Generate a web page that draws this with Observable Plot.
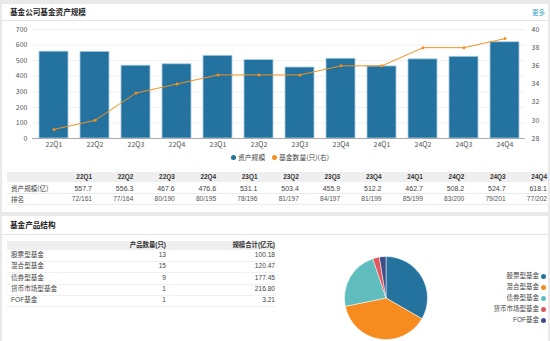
<!DOCTYPE html>
<html><head><meta charset="utf-8">
<script src="https://cdn.jsdelivr.net/npm/d3@7"></script>
<script src="https://cdn.jsdelivr.net/npm/@observablehq/plot@0.6"></script>
<style>
html,body{margin:0;padding:0;}
body{width:550px;height:341px;background:#e9e9e9;position:relative;overflow:hidden;font-family:"Noto Sans CJK SC","Noto Sans",sans-serif;color:#333;}
.panel{position:absolute;background:#fff;}
.abs{position:absolute;white-space:nowrap;line-height:1;}
.title{font-size:7.6px;font-weight:bold;color:#222;}
.sep{position:absolute;height:1px;background:#e3e3e3;}
.cell{font-size:6.6px;color:#444;font-family:"Liberation Sans","Noto Sans CJK SC",sans-serif;}
.hdr{font-size:6.4px;font-weight:bold;color:#333;font-family:"Liberation Sans","Noto Sans CJK SC",sans-serif;}
</style></head>
<body>
<div class="panel" style="left:2px;top:4px;width:546px;height:208px;"></div>
<div class="panel" style="left:2px;top:216px;width:546px;height:125px;"></div>
<div class="abs title" style="left:10px;top:8px;">基金公司基金资产规模</div>
<div class="abs" style="left:532px;top:9px;font-size:6.5px;color:#3aa4c6;">更多</div>
<div class="sep" style="left:2px;top:20px;width:546px;"></div>
<div id="chart" style="position:absolute;left:0;top:20px;"></div>
<div id="legend1"></div>
<div id="table1"></div>
<div class="abs title" style="left:10px;top:221px;">基金产品结构</div>
<div class="sep" style="left:2px;top:234px;width:546px;"></div>
<div id="table2"></div>
<div id="pie" style="position:absolute;left:340px;top:252px;"></div>
<div id="legend2"></div>
<script>
const quarters = ["22Q1","22Q2","22Q3","22Q4","23Q1","23Q2","23Q3","23Q4","24Q1","24Q2","24Q3","24Q4"];
const assets = [557.7,556.3,467.6,476.6,531.1,503.4,455.9,512.2,462.7,508.2,524.7,618.1];
const counts = [29,30,33,34,35,35,35,36,36,38,38,39];
const ranks = ["72/161","77/164","80/190","80/195","78/196","81/197","84/197","81/199","85/199","83/200","79/201","77/202"];
const leftTicks = [0,100,200,300,400,500,600,700];
const rightTicks = [28,30,32,34,36,38,40];
const seriesNames = ["资产规模","基金数量(只)(右)"];
const rowLabels = ["资产规模(亿)","排名"];

const fundTypes = ["股票型基金","混合型基金","债券型基金","货币市场型基金","FOF基金"];
const fundCounts = [13,15,9,1,1];
const fundScales = ["100.18","120.47","177.45","216.80","3.21"];
const table2Headers = ["产品数量(只)","规模合计(亿元)"];

const barColor = "#23729f", lineColor = "#f5901f";
const pieColors = ["#24739f","#f68b1f","#5fbdbd","#e0585f","#3e4e87"];

const data = quarters.map((q,i)=>({q, asset:assets[i], count:counts[i]}));
const toLeft = c => (c-28)*700/12;

const chart = Plot.plot({
  width:550, height:132, marginLeft:32, marginRight:25, marginTop:9, marginBottom:14,
  style:{fontSize:"7px", fontFamily:"'Noto Sans CJK SC','Noto Sans',sans-serif", color:"#555", background:"transparent"},
  x:{domain:quarters, paddingInner:0.3, paddingOuter:0.12, label:null},
  y:{domain:[0,700], label:null},
  marks:[
    Plot.gridY(leftTicks, {stroke:"#f0f0f0", strokeOpacity:1}),
    Plot.barY(data, {x:"q", y:"asset", fill:barColor, stroke:"#a9cde0", strokeWidth:0.8}),
    Plot.ruleY([0], {stroke:"#aaa"}),
    Plot.line(data, {x:"q", y:d=>toLeft(d.count), stroke:lineColor, strokeWidth:1}),
    Plot.dot(data, {x:"q", y:d=>toLeft(d.count), r:1.5, fill:lineColor}),
    Plot.axisY({ticks:leftTicks, anchor:"left", tickSize:0, tickPadding:5, label:null}),
    Plot.axisY({ticks:rightTicks.map(toLeft), tickFormat:v=>String(Math.round(v*12/700+28)), anchor:"right", tickSize:0, tickPadding:6, label:null}),
    Plot.axisX({tickSize:0, tickPadding:4, label:null})
  ]
});
document.getElementById("chart").appendChild(chart);

function abs(parent, html, style){ const d=document.createElement("div"); d.className="abs "+(style.cls||""); d.innerHTML=html; Object.assign(d.style, style.css); parent.appendChild(d); return d;}

// legend 1
const lg1 = document.getElementById("legend1");
const lgX = [231, 272];
seriesNames.forEach((n,i)=>{
  abs(lg1, "", {css:{left:lgX[i]+"px", top:"155px", width:"5px", height:"5px", borderRadius:"50%", background:i?lineColor:barColor}});
  abs(lg1, n, {css:{left:(lgX[i]+7)+"px", top:"154px", fontSize:"6.8px", color:"#444"}});
});

// table 1
const t1 = document.getElementById("table1");
abs(t1, "", {css:{left:"7px", top:"172px", width:"541px", height:"10px", background:"#efefef"}});
abs(t1, "", {css:{left:"7px", top:"193px", width:"541px", height:"1px", background:"#ececec"}});
abs(t1, "", {css:{left:"7px", top:"204px", width:"541px", height:"1px", background:"#ececec"}});
rowLabels.forEach((r,i)=> abs(t1, r, {css:{left:"11px", top:(185+i*11)+"px", fontSize:"6.6px", color:"#444"}}));
quarters.forEach((q,i)=>{
  const right = 550 - (92 + i*41.36);
  abs(t1, q, {cls:"hdr", css:{right:right+"px", top:"174px"}});
  abs(t1, assets[i].toFixed(1), {cls:"cell", css:{right:right+"px", top:"185px", fontSize:"7px"}});
  abs(t1, ranks[i], {cls:"cell", css:{right:right+"px", top:"196px", color:"#555"}});
});

// table 2
const t2 = document.getElementById("table2");
abs(t2, "", {css:{left:"7px", top:"241px", width:"268px", height:"9px", background:"#efefef"}});
abs(t2, table2Headers[0], {cls:"hdr", css:{right:(550-166)+"px", top:"242px"}});
abs(t2, table2Headers[1], {cls:"hdr", css:{right:(550-275)+"px", top:"242px"}});
fundTypes.forEach((f,i)=>{
  const top = 252 + i*11.3;
  abs(t2, f, {cls:"cell", css:{left:"11px", top:top+"px"}});
  abs(t2, String(fundCounts[i]), {cls:"cell", css:{right:(550-166)+"px", top:top+"px"}});
  abs(t2, fundScales[i], {cls:"cell", css:{right:(550-275)+"px", top:top+"px"}});
  abs(t2, "", {css:{left:"7px", top:(top+9)+"px", width:"268px", height:"1px", background:"#f0f0f0"}});
});

// pie
const pieData = fundTypes.map((t,i)=>({type:t, count:fundCounts[i]}));
const pie = Plot.plot({
  width:92, height:92, margin:0, axis:null,
  color:{domain:fundTypes, range:pieColors},
  style:{background:"transparent"},
  marks:[
    (index, scales, values, dims) => {
      const arcs = d3.pie().sort(null).value(d=>d.count)(pieData);
      const arc = d3.arc().innerRadius(0).outerRadius(41.5);
      const g = d3.create("svg:g").attr("transform", `translate(${dims.width/2},${dims.height/2})`);
      g.selectAll("path").data(arcs).join("path")
        .attr("d", arc).attr("fill", d=>scales.color(d.data.type))
        .attr("stroke","#fff").attr("stroke-width",0.5);
      return g.node();
    }
  ]
});
document.getElementById("pie").appendChild(pie);

// legend 2
const lg2 = document.getElementById("legend2");
fundTypes.forEach((f,i)=>{
  const y = 276 + i*11;
  abs(lg2, f, {cls:"cell", css:{right:(550-539)+"px", top:(y-3.5)+"px", fontSize:"6.5px", color:"#444"}});
  abs(lg2, "", {css:{left:"541px", top:(y-2)+"px", width:"5px", height:"5px", borderRadius:"50%", background:pieColors[i]}});
});
</script>
</body></html>
